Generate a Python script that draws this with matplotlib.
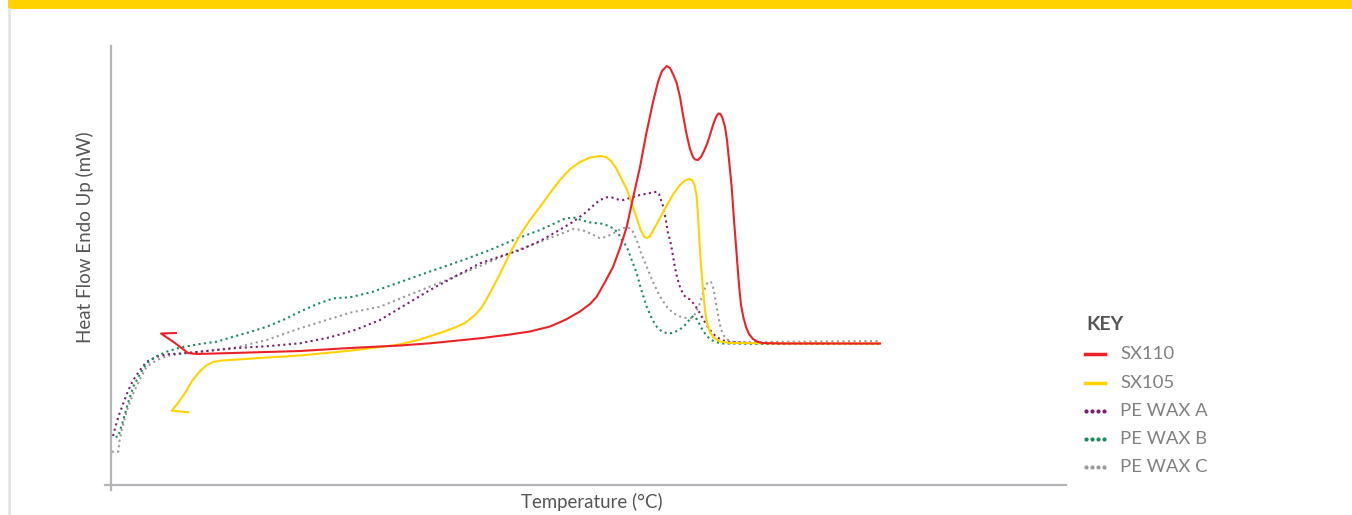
import matplotlib
matplotlib.use("Agg")
import matplotlib.pyplot as plt
from matplotlib.lines import Line2D
from matplotlib.patches import Rectangle

# ---- data (x: temperature in chart units, y: heat flow in chart units) ----
sx110_x = [176, 161, 175, 188, 197, 233, 300, 350, 400, 430, 480, 510, 530, 550, 565, 580, 590, 596.7, 605, 613, 620, 626.7, 633, 640, 646, 653, 658, 662, 666.7, 670, 673, 676.7, 680, 683, 686.7, 690, 693, 695, 698, 701, 704, 707, 710, 713, 716, 718.3, 720.5, 722.5, 725, 727, 729, 731.7, 734, 736.7, 739, 741, 743.3, 746, 749, 753, 757, 762, 780, 880]
sx110_y = [152, 151.5, 142, 132, 131, 132, 134, 137, 139.5, 141.7, 146.7, 150.5, 153.5, 158.5, 165, 173.5, 181, 188.3, 203, 218, 237, 258, 287, 318, 350, 383, 403, 414, 419, 417, 411, 402, 388, 370, 350, 336, 328, 325.5, 325, 328, 334, 341, 350, 360, 368, 371.5, 371, 367, 358, 345, 325, 298, 265, 230, 200, 180, 168, 158, 151, 146, 143.5, 142, 141.5, 141.5]

sx105_x = [188.3, 171.7, 178, 185, 192, 200, 207, 213, 220, 260, 300, 350, 396.7, 420, 440, 455, 465, 475, 482, 490, 500, 510, 520, 530, 540, 550, 560, 570, 580, 590, 600, 606, 611, 616, 621, 626.7, 632, 637, 641, 644.5, 647.3, 650, 654, 660, 667, 673.3, 680, 685, 689, 692, 694.5, 696.5, 698, 699.3, 701, 703, 705, 707, 710, 714, 720, 730, 800, 880]
sx105_y = [72.7, 74.3, 82, 92, 104, 114, 120, 123, 124.3, 127, 129.5, 134.3, 140, 145.5, 152, 157.5, 162, 170, 178, 192, 211, 232, 250, 265, 278, 292, 305, 316, 323, 327.5, 329, 328, 324, 317, 307, 296, 281, 266, 254, 248, 247, 249, 256, 267, 280, 291, 300, 304.5, 306, 305, 300, 290, 270, 245, 220, 195, 175, 162, 153, 147, 143.5, 142, 141.5, 141.5]

wax_a_x = [113, 115, 119, 123.3, 128, 133.3, 140, 146.7, 156, 166.7, 183, 200, 233, 270, 300, 330, 355, 380, 405, 430, 455, 480, 500, 520, 540, 556, 573.3, 585, 595, 600, 606.7, 612, 618, 623.3, 630, 640, 650, 656.7, 659, 661, 663.3, 666, 668, 670, 672, 674.5, 677, 680, 683, 686, 690, 694, 698, 702, 706, 710, 715, 720, 726.7, 760, 880]
wax_a_y = [49, 56.7, 70, 81.7, 94, 105, 115, 123.3, 128, 130.7, 131.7, 133.3, 136.7, 139, 141.7, 147.7, 155, 165, 180, 195, 208.5, 221.7, 228.5, 235, 244, 253, 263.3, 272, 281, 285, 287.7, 287.5, 285.5, 285, 287, 290, 292, 293.3, 291, 285, 278, 264, 252, 245, 235, 220, 208, 198, 191, 187.5, 185.5, 181, 175, 168, 161, 155, 149.5, 146, 143.3, 141.5, 141]

wax_b_x = [110, 118.3, 120.5, 123.3, 128, 133.3, 140, 146.7, 156, 166.7, 180, 200, 216.7, 233.3, 250, 266.7, 283, 300, 316, 333.3, 350, 372, 396.7, 430, 463.3, 490, 513.3, 540, 563.3, 573.3, 580, 586.7, 593, 600, 606, 613.3, 618, 622, 626.7, 631, 636.7, 641, 646.7, 652, 657, 662, 667, 672, 677, 682, 686, 690, 693.3, 696, 699, 702, 706, 710, 715, 722, 760, 880]
wax_b_y = [48.3, 48.3, 56, 65, 82, 98.3, 111, 121.7, 128.5, 133.3, 137.5, 141, 143.3, 148.3, 153, 158.3, 165, 173.3, 180.5, 186.7, 187.7, 193, 201.7, 213.5, 225, 235, 245, 255, 265.7, 267.7, 265.5, 263.3, 262, 261.7, 260, 256.7, 252, 245, 238.3, 227, 211.7, 196, 178.3, 166, 158, 153.5, 151.7, 152, 154, 157, 161, 166, 169, 167, 162, 156, 150, 146, 143, 141.5, 141, 141]

wax_c_x = [111.7, 118.3, 119.5, 121.7, 127, 133.3, 140, 146.7, 156, 166.7, 183, 200, 233.3, 266.7, 300, 325, 350, 380, 413, 446.7, 480, 513.3, 545, 573.3, 582, 590, 600, 606, 613.3, 620, 626.7, 632, 636.7, 641, 646.7, 653, 660, 667, 673.3, 680, 686, 690, 694, 697, 700, 703, 706.7, 709, 711, 713, 715, 717, 719, 721, 724, 728, 733.3, 760, 880]
wax_c_y = [33.3, 33.3, 44, 55, 75, 91.7, 106, 118.3, 124.5, 129, 131.5, 133.3, 137, 145, 156.7, 164.5, 172.3, 178.3, 191.7, 205, 219, 233.3, 245, 256, 255, 251.7, 246.7, 248, 251.7, 255.5, 258.3, 255, 245, 232, 218.3, 203, 188.3, 178, 171.7, 168.5, 167, 166.7, 169, 175, 181.7, 192, 201, 203.5, 203, 198, 188, 176, 165, 156, 149, 145, 143, 143, 144]

labels = ["SX110", "SX105", "PE WAX A", "PE WAX B", "PE WAX C"]
colors = ["#ec2229", "#ffd200", "#7a1f6e", "#1b8a5e", "#9a9a9a"]

W, H = 1352, 515
fig = plt.figure(figsize=(W / 100, H / 100), dpi=100)
fig.patch.set_facecolor("white")

# top yellow band and left border
fig.add_artist(Rectangle((8 / W, 1 - 9 / H), 1 - 8 / W, 9 / H, transform=fig.transFigure,
                         facecolor="#ffd200", edgecolor="none"))
fig.add_artist(Line2D([9 / W, 9 / W], [0, 1 - 9 / H], transform=fig.transFigure,
                      color="#e4e4e4", lw=2))

ax = fig.add_axes([111 / W, 30 / H, (1066 - 111) / W, (485 - 46) / H])
ax.set_xlim(111, 1066)
ax.set_ylim(0, 439)
for s in ["top", "right", "left", "bottom"]:
    ax.spines[s].set_visible(False)
ax.set_xticks([])
ax.set_yticks([])
ax.patch.set_alpha(0)

# axis lines (slightly overshooting each other)
fig.add_artist(Line2D([111 / W, 111 / W], [1 - 490 / H, 1 - 46 / H], transform=fig.transFigure,
                      color="#b4b4b8", lw=1.6))
fig.add_artist(Line2D([105 / W, 1066 / W], [1 - 485 / H, 1 - 485 / H], transform=fig.transFigure,
                      color="#b4b4b8", lw=1.6))

series = [(sx110_x, sx110_y), (sx105_x, sx105_y), (wax_a_x, wax_a_y), (wax_b_x, wax_b_y), (wax_c_x, wax_c_y)]
styles = ["-", "-", ":", ":", ":"]
order = [4, 2, 3, 1, 0]
for i in order:
    x, y = series[i]
    ax.plot(x, y, color=colors[i], lw=1.5, ls=styles[i], clip_on=False,
            solid_joinstyle="round", zorder=3 + (i < 2))

fig.text(85 / W, 1 - 237 / H, "Heat Flow Endo Up (mW)", rotation=90, ha="center", va="center",
         fontsize=13.5, color="#555555", family="Lato")
fig.text(592 / W, 1 - 502 / H, "Temperature (°C)", ha="center", va="center",
         fontsize=13.4, color="#555555", family="Lato")

# legend (KEY)
fig.text(1086 / W, 1 - 325 / H, "KEY", ha="left", va="center", fontsize=14,
         fontweight="bold", color="#555555", family="Lato")
ys = [354, 383, 411, 439, 467]
for lab, col, st, yy in zip(labels, colors, styles, ys):
    if st == "-":
        fig.add_artist(Line2D([1085 / W, 1105 / W], [1 - yy / H] * 2, transform=fig.transFigure,
                              color=col, lw=2.5))
    else:
        for k in range(4):
            fig.add_artist(Line2D([(1086 + k * 6) / W], [1 - yy / H], transform=fig.transFigure,
                                  color=col, lw=0, marker="o", markersize=3, markeredgewidth=0))
    fig.text(1120 / W, 1 - yy / H, lab, ha="left", va="center", fontsize=13.3,
             color="#808080", family="Lato")

fig.savefig("out.png", dpi=100, facecolor="white")
